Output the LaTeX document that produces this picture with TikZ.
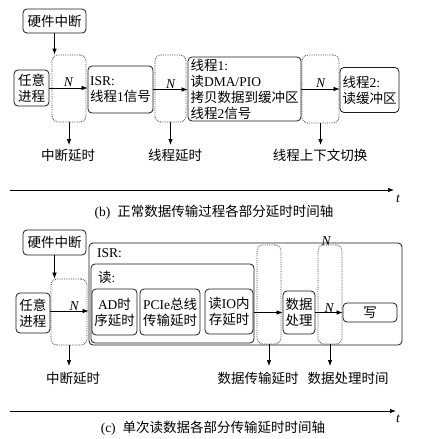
\documentclass[tikz,border=0pt]{standalone}
\usepackage{fontspec}
\setmainfont{Liberation Serif}
\newfontfamily\zhf{Noto Sans CJK SC}
\newcommand\z[1]{{\zhf #1}}
\usetikzlibrary{arrows.meta}
\begin{document}
\begin{tikzpicture}[x=1pt,y=-1pt,
  font=\fontsize{13.5}{16}\selectfont,
  sbox/.style={draw=black!90, line width=0.8pt, rounded corners=4pt, inner sep=0pt, align=center},
  lbox/.style={sbox, align=left},
  dbox/.style={draw=black!75, densely dotted, line width=0.8pt, rounded corners=6pt, inner sep=0pt},
  conn/.style={-{Latex[length=6pt,width=4.5pt]}, line width=0.7pt},
  nlab/.style={font=\fontsize{13.5}{16}\selectfont\itshape, inner sep=1pt},
  lab/.style={inner sep=0pt},
]
\useasboundingbox (0,0) rectangle (428,439);

% ---------------- part (b) ----------------
\node[sbox, minimum width=63pt, minimum height=24pt] (hwb) at (54.5,21) {\z{硬件中断}};
\node[dbox, minimum width=34pt, minimum height=67pt] (db1) at (69,88.5) {};
\node[sbox, minimum width=35pt, minimum height=36pt] (anyb) at (31.5,88) {\z{任意}\\\z{进程}};
\node[lbox, minimum width=65pt, minimum height=47pt] (isrb) at (120.5,89.5) {ISR:\\\z{线程}1\z{信号}};
\node[dbox, minimum width=31pt, minimum height=67pt] (db2) at (170.5,88.5) {};
\node[lbox, minimum width=113pt, minimum height=64pt] (t1b) at (244.5,89) {\z{线程}1:\\\z{读}DMA/PIO\\\z{拷贝数据到缓冲区}\\\z{线程}2\z{信号}};
\node[dbox, minimum width=37pt, minimum height=68pt] (db3) at (320.5,89) {};
\node[lbox, minimum width=59pt, minimum height=45pt] (t2b) at (369.5,90) {\z{线程}2:\\\z{读缓冲区}};

\draw[conn] (hwb.south) -- (hwb.south |- db1.north);
\draw[conn] (anyb.east) -- (anyb.east -| isrb.west) node[nlab, midway, above] {N};
\draw[conn] (isrb.east) -- (isrb.east -| t1b.west) node[nlab, midway, above] {N};
\draw[conn] (t1b.east) -- (t1b.east -| t2b.west) node[nlab, midway, above] {N};

\node[lab] (lb1) at (68,155) {\z{中断延时}};
\node[lab] (lb2) at (175,155) {\z{线程延时}};
\node[lab] (lb3) at (320,155) {\z{线程上下文切换}};
\coordinate (eb1) at (69,145);
\coordinate (eb2) at (170.5,145);
\coordinate (eb3) at (320.5,145);
\draw[conn] (db1.south) -- (eb1);
\draw[conn] (db2.south) -- (eb2);
\draw[conn] (db3.south) -- (eb3);

\coordinate (axb0) at (10,190);
\coordinate (axb1) at (394,190);
\draw[conn] (axb0) -- (axb1);
\node[nlab] (tb) at (398,199) {t};
\node[lab] (capb) at (214,212) {(b)\hspace{7pt}\z{正常数据传输过程各部分延时时间轴}};

% ---------------- part (c) ----------------
\node[sbox, minimum width=63pt, minimum height=25pt] (hwc) at (54.5,242.5) {\z{硬件中断}};
\node[sbox, minimum width=313pt, minimum height=102pt] (isrc) at (245.5,294) {};
\node[sbox, minimum width=163pt, minimum height=79pt] (readc) at (172.5,303.5) {};
\node[lab, anchor=west] (isrt) at (97,253) {ISR:};
\node[lab, anchor=west] (readt) at (98,277) {\z{读}:};
\node[dbox, minimum width=36pt, minimum height=66pt] (dc1) at (69,312) {};
\node[sbox, minimum width=34pt, minimum height=40pt] (anyc) at (33,313) {\z{任意}\\\z{进程}};
\node[sbox, minimum width=45pt, minimum height=46pt] (adc) at (114.5,312) {AD\z{时}\\\z{序延时}};
\node[sbox, minimum width=60pt, minimum height=46pt] (pcic) at (170,312) {PCIe\z{总线}\\\z{传输延时}};
\node[sbox, minimum width=48pt, minimum height=45pt] (ioc) at (229,311.5) {\z{读}IO\z{内}\\\z{存延时}};
\node[dbox, minimum width=24pt, minimum height=99pt] (dc2) at (269,294.5) {};
\node[sbox, minimum width=32pt, minimum height=43pt] (dpc) at (299,312.5) {\z{数据}\\\z{处理}};
\node[dbox, minimum width=24pt, minimum height=99pt] (dc3) at (330,294.5) {};
\node[sbox, minimum width=54pt, minimum height=19pt] (wc) at (370,312.5) {\z{写}};
\node[nlab] (ntop) at (326,241) {N};

\draw[conn] (hwc.south) -- (hwc.south |- dc1.north);
\draw[conn] (anyc.east |- 0,311) -- (isrc.west |- 0,311) node[nlab, pos=0.62, above, inner sep=0pt] {N};
\draw[conn] (dpc.west -| readc.east) -- (dpc.west);
\draw[conn] (dpc.east) -- (dpc.east -| wc.west) node[nlab, midway, above, inner sep=0pt] {N};

\node[lab] (lc1) at (73,378) {\z{中断延时}};
\node[lab] (lc2) at (258,378) {\z{数据传输延时}};
\node[lab] (lc3) at (348,378) {\z{数据处理时间}};
\coordinate (ec1) at (69,366);
\coordinate (ec2) at (269,366);
\coordinate (ec3) at (330,366);
\draw[conn] (dc1.south) -- (ec1);
\draw[conn] (dc2.south) -- (ec2);
\draw[conn] (dc3.south) -- (ec3);

\coordinate (axc0) at (10,411);
\coordinate (axc1) at (396,411);
\draw[conn] (axc0) -- (axc1);
\node[nlab] (tc) at (398,419) {t};
\node[lab] (capc) at (213,428) {(c)\hspace{7pt}\z{单次读数据各部分传输延时时间轴}};
\end{tikzpicture}
\end{document}
